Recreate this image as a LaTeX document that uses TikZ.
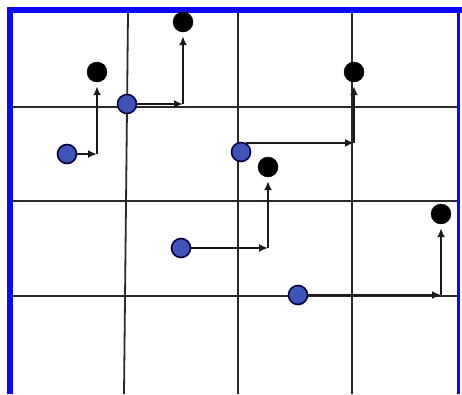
\documentclass[tikz,border=0pt]{standalone}
\usetikzlibrary{arrows.meta}
\definecolor{dotblue}{RGB}{62,84,184}
\definecolor{framebl}{RGB}{10,10,245}
\definecolor{gridc}{RGB}{45,40,40}
\begin{document}
\begin{tikzpicture}[x=1pt,y=-1pt,
  gridline/.style={draw=gridc,line width=1.8pt},
  src/.style={circle,fill=dotblue,draw=black!75!blue,line width=1.6pt,minimum size=19pt,inner sep=0pt},
  dst/.style={circle,fill=black,draw=black,minimum size=20pt,inner sep=0pt},
  arr/.style={draw=black!90,line width=1.9pt,-{Latex[length=9pt,width=8pt]}}]
\useasboundingbox (0,0) rectangle (462,394);
\fill[white] (0,0) rectangle (462,394);
% frame
\fill[framebl] (7,7) rectangle (462,13);
\fill[framebl] (7,7) rectangle (12.5,394);
\fill[framebl] (457,7) rectangle (460,394);
% grid
\draw[gridline] (128,13) -- (124,394);
\draw[gridline] (238,13) -- (238,394);
\draw[gridline] (352,13) -- (352,394);
\draw[gridline] (12,107) -- (457,107);
\draw[gridline] (12,201) -- (457,201);
\draw[gridline] (12,296) -- (457,296);
% black targets
\node[dst] (a) at (97,72) {};
\node[dst] (b) at (183,22) {};
\node[dst] (c) at (354,72) {};
\node[dst] (d) at (268,167) {};
\node[dst] (e) at (441,214) {};
% blue sources
\node[src] (A) at (67,154) {};
\node[src] (B) at (127,104) {};
\node[src] (C) at (241,152) {};
\node[src] (D) at (181,248) {};
\node[src] (E) at (298,295) {};
% corners
\coordinate (cA) at (a |- A);
\coordinate (cB) at (b |- B);
\coordinate (cC) at (c |- C.62);
\coordinate (cD) at (d |- D);
\coordinate (cE) at (e |- E);
% connectors
\draw[arr] (A) -- (cA);
\draw[arr,shorten >=4pt] (cA) -- (a);
\draw[arr] (B) -- (cB);
\draw[arr,shorten >=4pt] (cB) -- (b);
\draw[arr] (C.62) -- (cC);
\draw[arr,shorten >=4pt] (cC) -- (c);
\draw[arr] (D) -- (cD);
\draw[arr,shorten >=4pt] (cD) -- (d);
\draw[arr] (E) -- (cE);
\draw[arr,shorten >=4pt] (cE) -- (e);
\end{tikzpicture}
\end{document}
